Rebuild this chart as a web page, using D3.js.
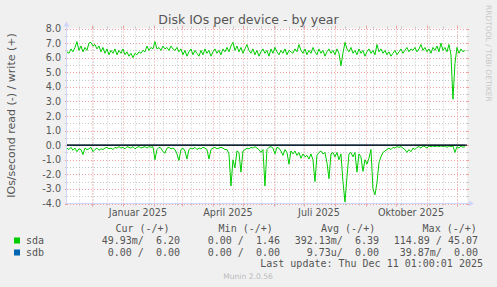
<!DOCTYPE html>
<html><head><meta charset="utf-8">
<script src="https://cdn.jsdelivr.net/npm/d3@7"></script>
<style>
html,body{margin:0;padding:0;background:#F0F0F0;}
svg{display:block}
text{white-space:pre}
</style>
</head><body>
<script>
// ---------------- data ----------------
const chartTitle = "Disk IOs per device - by year";
const yAxisLabel = "IOs/second read (-) / write (+)";
const rangeStart = Date.UTC(2024, 10, 6, 1, 0, 1);
const rangeEnd = Date.UTC(2025, 11, 11, 1, 0, 1);
const dataStart = Date.UTC(2024, 10, 6);
const dataStepDays = 2;
const yTickValues = [-4, -3, -2, -1, 0, 1, 2, 3, 4, 5, 6, 7, 8];
const yTickLabels = ["-4.0", "-3.0", "-2.0", "-1.0", "0.0", "1.0", "2.0", "3.0", "4.0", "5.0", "6.0", "7.0", "8.0"];
const xLabelMonths = [Date.UTC(2025, 0, 1), Date.UTC(2025, 3, 1), Date.UTC(2025, 6, 1), Date.UTC(2025, 9, 1)];
const xLabelTexts = ["Januar 2025", "April 2025", "Juli 2025", "Oktober 2025"];

// sda writes (+), one value every 2 days
const sdaWrite = [
  6.4, 6.3, 6.6, 6.4, 6.7,
  7.1, 6.5, 6.8, 6.4, 6.7, 6.5, 7.0,
  7.05, 6.8, 6.9, 6.6, 6.8,
  6.4, 6.7, 6.3, 6.6, 6.2, 6.5, 6.3, 6.6, 6.2, 6.5, 6.3,
  6.6, 6.2, 6.4, 6.1, 6.3, 6.0, 6.3,
  6.2, 6.4, 6.3, 6.5, 6.4, 6.8, 6.5, 6.7, 6.6,
  7.1,
  6.6, 6.7, 6.5, 6.8, 6.6, 6.7, 6.5, 6.8, 6.6, 6.5, 6.7, 6.4,
  6.6, 6.2, 6.5, 6.1, 6.4, 6.6, 6.2, 6.5, 6.3, 6.1, 6.5, 6.2, 6.6, 6.3, 6.5, 6.1, 6.4, 6.6, 6.3, 6.5, 6.2, 6.6, 6.4, 6.7, 6.4, 6.8,
  7.05,
  6.5, 6.8, 6.4, 6.7, 6.3, 6.6, 6.9, 6.5, 6.3, 6.6, 6.2, 6.5, 6.1, 6.4,
  6.6, 6.3, 6.5, 6.1, 6.6, 6.3, 6.7, 6.4, 6.2, 6.5, 6.3, 6.6, 6.2, 6.5, 6.4, 6.3, 6.6, 6.4,
  6.9,
  6.5, 6.3, 6.6, 6.2, 6.5, 6.3, 6.7, 6.4, 6.2, 6.6, 6.3, 6.5, 6.1, 6.4, 6.6, 6.3, 6.5, 6.2, 6.6, 6.3,
  5.45, 6.3, 7.05,
  6.6, 6.4, 6.7, 6.3, 6.5, 6.2, 6.6, 6.3, 6.5, 6.1, 6.4, 6.6, 6.3, 6.5, 6.2, 6.9,
  6.4, 6.6, 6.3, 6.5, 6.2, 6.4, 6.1, 6.3, 6.5, 6.2, 6.4, 6.6, 6.3, 6.5, 6.7, 6.4, 6.6, 6.5, 6.7, 6.4, 6.6,
  6.9,
  6.5, 6.7, 6.4, 6.6, 6.3, 6.7, 6.5, 6.8, 6.4, 7.0,
  6.5, 6.7, 6.4, 6.9, 6.2,
  3.15, 5.6,
  6.7, 6.3, 6.6, 6.4, 6.5
];

// sda reads (-), magnitude, one value every 2 days
const sdaRead = [
  0.2, 0.3, 0.15, 0.35, 0.2, 0.45, 0.25, 0.3, 0.65, 0.2,
  0.3, 0.25, 0.15, 0.45, 0.3, 0.2, 0.35, 0.25, 0.3, 0.2,
  0.15, 0.25, 0.2, 0.3, 0.15, 0.2, 0.1, 0.2, 0.15, 0.25,
  0.1, 0.15, 0.2, 0.1, 0.25, 0.15, 0.1, 0.2, 0.15, 0.1,
  0.2, 0.1, 0.15, 0.1,
  1.0,
  0.3, 0.15, 0.2, 0.45, 0.55, 0.2, 0.15, 0.25, 0.2, 0.3, 0.6, 1.05,
  0.3, 0.2, 0.4, 0.95, 0.3, 0.2, 0.25, 0.15, 0.3, 0.2, 0.25, 0.15, 0.2, 0.3, 0.95, 0.3, 0.2, 0.15, 0.25, 0.2, 0.15, 0.2, 0.3, 0.3, 0.6, 2.8,
  1.0, 1.55, 0.4, 0.5, 1.85, 0.4, 0.3, 0.2, 0.25, 0.15, 0.2, 0.1, 0.2, 0.3, 0.5,
  0.3, 2.8, 0.3, 0.15, 0.1, 0.2, 0.6, 0.15, 0.2, 0.4, 0.7, 0.3, 0.5, 1.3, 0.4, 0.6, 0.4, 0.7,
  0.5, 0.9, 0.6, 0.8, 0.7, 0.95, 0.6, 1.0, 2.5, 0.7, 0.5, 0.4, 0.6, 0.5, 1.2, 2.3, 0.6, 0.5, 0.8, 0.5, 1.0,
  0.6, 2.5, 3.9, 2.2, 0.6, 0.5, 0.8, 0.5, 1.85, 0.6, 0.8, 1.8, 1.0, 1.3, 0.9, 0.3, 3.0, 3.4, 2.6,
  1.2, 0.8, 0.5, 0.4, 0.3, 0.2, 0.3, 0.15, 0.2, 0.1, 0.15, 0.1, 0.2, 0.3, 0.5, 0.3, 0.45, 0.2, 0.3, 0.15, 0.1,
  0.2, 0.05, 0.1, 0.2, 0.05, 0.1, 0.05, 0.1, 0.05, 0.1, 0.05, 0.1, 0.05, 0.15, 0.05, 0.1, 0.05, 0.5,
  0.1, 0.2, 0.05, 0.15, 0.1
];

// sdb: flat zero over the whole range
const sdbDates = [Date.UTC(2024, 10, 6), Date.UTC(2025, 11, 9)];
const sdbValues = [0, 0];

const legendHeaders = ["Cur (-/+)", "Min (-/+)", "Avg (-/+)", "Max (-/+)"];
const seriesNames = ["sda", "sdb"];
const seriesColors = ["#00CC00", "#0066B3"];
const sdaStats = ["49.93m/  6.20", "0.00 /  1.46", "392.13m/  6.39", "114.89 / 45.07"];
const sdbStats = ["0.00 /  0.00", "0.00 /  0.00", "9.73u/  0.00", "39.87m/  0.00"];
const lastUpdate = "Last update: Thu Dec 11 01:00:01 2025";
const footer = "Munin 2.0.56";
const sideText = "RRDTOOL / TOBI OETIKER";

// ---------------- drawing ----------------
const W = 497, H = 287;
const PL = 67, PR = 467, PT = 28.5, PB = 203.5;
const DAY = 86400000;

const svg = d3.select("body").append("svg").attr("width", W).attr("height", H);
svg.append("rect").attr("width", W).attr("height", H).attr("fill", "#F0F0F0");
svg.append("rect").attr("x", PL).attr("y", PT).attr("width", PR - PL).attr("height", PB - PT).attr("fill", "#FFFFFF");

const x = d3.scaleUtc().domain([rangeStart, rangeEnd]).range([PL, PR]);
const y = d3.scaleLinear().domain([-4, 8]).range([PB, PT]);

const sans = "'DejaVu Sans', Verdana, sans-serif";
const mono = "'DejaVu Sans Mono', monospace";
const fontCol = "#555555";
const minorCol = "#C8C8C8";
const majorCol = "#F0A0A0";

const grid = svg.append("g");
// horizontal minor grid
d3.range(-3.5, 8, 1).forEach(v => {
  const yy = Math.round(y(v)) + 0.5;
  grid.append("line").attr("x1", PL).attr("x2", PR).attr("y1", yy).attr("y2", yy)
    .attr("stroke", minorCol).attr("stroke-dasharray", "1,2");
  grid.append("line").attr("x1", PL - 2).attr("x2", PL).attr("y1", yy).attr("y2", yy).attr("stroke", minorCol);
  grid.append("line").attr("x1", PR).attr("x2", PR + 2).attr("y1", yy).attr("y2", yy).attr("stroke", minorCol);
});
// vertical minor grid: every second week from Monday
const firstMonday = d3.utcMonday.floor(new Date(rangeStart));
d3.utcMonday.range(firstMonday, new Date(rangeEnd), 2).filter(d => d >= rangeStart).forEach(d => {
  const xx = Math.round(x(d)) + 0.5;
  grid.append("line").attr("x1", xx).attr("x2", xx).attr("y1", PT).attr("y2", PB)
    .attr("stroke", minorCol).attr("stroke-dasharray", "1,2");
  grid.append("line").attr("x1", xx).attr("x2", xx).attr("y1", PB).attr("y2", PB + 2).attr("stroke", minorCol);
  grid.append("line").attr("x1", xx).attr("x2", xx).attr("y1", PT - 2).attr("y2", PT).attr("stroke", minorCol);
});
// horizontal major grid
yTickValues.forEach(v => {
  const yy = Math.round(y(v)) + 0.5;
  grid.append("line").attr("x1", PL).attr("x2", PR).attr("y1", yy).attr("y2", yy)
    .attr("stroke", majorCol).attr("stroke-dasharray", "1,2");
  grid.append("line").attr("x1", PL - 2).attr("x2", PL).attr("y1", yy).attr("y2", yy).attr("stroke", majorCol);
  grid.append("line").attr("x1", PR).attr("x2", PR + 2).attr("y1", yy).attr("y2", yy).attr("stroke", majorCol);
});
// vertical major grid: month starts
d3.utcMonth.range(new Date(rangeStart), new Date(rangeEnd)).forEach(d => {
  const xx = Math.round(x(d)) + 0.5;
  grid.append("line").attr("x1", xx).attr("x2", xx).attr("y1", PT).attr("y2", PB)
    .attr("stroke", majorCol).attr("stroke-dasharray", "1,2");
  grid.append("line").attr("x1", xx).attr("x2", xx).attr("y1", PB).attr("y2", PB + 3).attr("stroke", majorCol);
  grid.append("line").attr("x1", xx).attr("x2", xx).attr("y1", PT - 3).attr("y2", PT).attr("stroke", majorCol);
});

// y tick labels
svg.append("g").selectAll("text").data(yTickValues).join("text")
  .attr("x", 61).attr("y", d => y(d) + 3.5)
  .attr("text-anchor", "end").attr("font-family", sans).attr("font-size", "9.6px").attr("fill", fontCol)
  .text((d, i) => yTickLabels[i]);

// x labels centred half a month after the month start
svg.append("g").selectAll("text").data(xLabelMonths).join("text")
  .attr("x", d => x(d + 15 * DAY)).attr("y", 216)
  .attr("text-anchor", "middle").attr("font-family", sans).attr("font-size", "9.6px").attr("fill", fontCol)
  .text((d, i) => xLabelTexts[i]);

// series
const dateAt = i => dataStart + i * dataStepDays * DAY;
const clip = svg.append("clipPath").attr("id", "plotclip").append("rect")
  .attr("x", PL).attr("y", PT - 1).attr("width", PR - PL).attr("height", PB - PT + 1);
const plot = svg.append("g").attr("clip-path", "url(#plotclip)");

const lineW = d3.line().x((d, i) => x(dateAt(i))).y(d => y(d));
const lineR = d3.line().x((d, i) => x(dateAt(i))).y(d => y(-d));
plot.append("path").attr("d", lineR(sdaRead)).attr("fill", "none").attr("stroke", seriesColors[0]).attr("stroke-width", 1);
plot.append("path").attr("d", lineW(sdaWrite)).attr("fill", "none").attr("stroke", seriesColors[0]).attr("stroke-width", 1);
const lineB = d3.line().x((d, i) => x(sdbDates[i])).y(d => y(d));
plot.append("path").attr("d", lineB(sdbValues)).attr("fill", "none").attr("stroke", seriesColors[1]).attr("stroke-width", 1);

// zero rule
svg.append("line").attr("x1", PL).attr("x2", PR).attr("y1", y(0)).attr("y2", y(0))
  .attr("stroke", "#000000").attr("stroke-width", 1.2);

// axes + arrows
const axisCol = "#CFD6F8";
svg.append("line").attr("x1", PL - 0.5).attr("x2", PL - 0.5).attr("y1", PB).attr("y2", PT - 4).attr("stroke", axisCol);
svg.append("line").attr("x1", PL - 2).attr("x2", PR + 3).attr("y1", PB).attr("y2", PB).attr("stroke", axisCol);
svg.append("path").attr("d", `M${PL - 3.5},${PT - 2} L${PL - 0.5},${PT - 7} L${PL + 2.5},${PT - 2} Z`).attr("fill", axisCol);
svg.append("path").attr("d", `M${PR + 2},${PB - 3} L${PR + 7},${PB} L${PR + 2},${PB + 3} Z`).attr("fill", axisCol);

// title
svg.append("text").attr("x", 248.5).attr("y", 24).attr("text-anchor", "middle")
  .attr("font-family", sans).attr("font-size", "12.5px").attr("fill", fontCol).text(chartTitle);

// y axis title
svg.append("text").attr("transform", "translate(15,115.5) rotate(-90)").attr("text-anchor", "middle")
  .attr("font-family", sans).attr("font-size", "11px").attr("fill", fontCol).text(yAxisLabel);

// side text
svg.append("text").attr("transform", "translate(485.5,5) rotate(90)").attr("text-anchor", "start")
  .attr("font-family", sans).attr("font-size", "7.5px").attr("fill", "#C8C8C8").text(sideText);

// legend
const lg = svg.append("g").attr("font-family", mono).attr("font-size", "10px").attr("fill", fontCol);
const headerX = [115.4, 218.6, 321, 422.6];
legendHeaders.forEach((h, i) => lg.append("text").attr("x", headerX[i]).attr("y", 231.5).text(h));
const colEnd = [180, 280, 379, 478];
const rowsY = [243.5, 255.5];
[sdaStats, sdbStats].forEach((stats, r) => {
  lg.append("rect").attr("x", 14).attr("y", rowsY[r] - 6).attr("width", 6).attr("height", 6).attr("fill", seriesColors[r]);
  lg.append("text").attr("x", 26).attr("y", rowsY[r]).text(seriesNames[r]);
  stats.forEach((s, i) => lg.append("text").attr("x", colEnd[i]).attr("y", rowsY[r]).attr("text-anchor", "end").text(s));
});
lg.append("text").attr("x", 483).attr("y", 267).attr("text-anchor", "end").text(lastUpdate);

svg.append("text").attr("x", 248).attr("y", 279).attr("text-anchor", "middle")
  .attr("font-family", sans).attr("font-size", "7.6px").attr("fill", "#BBBBBB").text(footer);
</script>
</body></html>
